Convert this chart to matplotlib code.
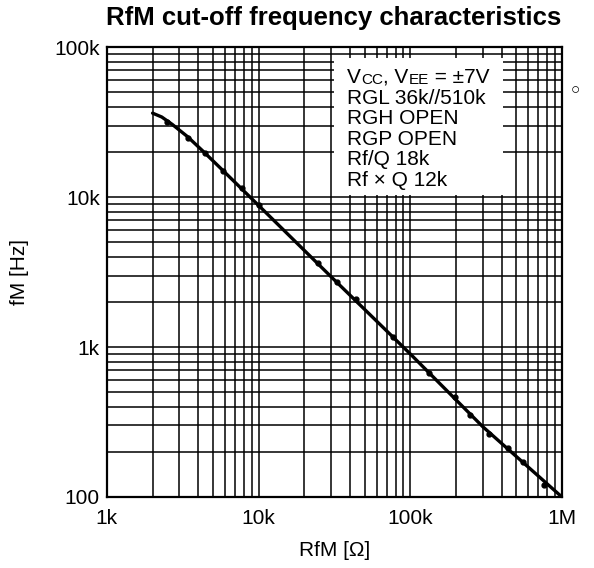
import matplotlib
matplotlib.use("Agg")
import matplotlib.pyplot as plt
from matplotlib.ticker import LogLocator, FixedLocator, FixedFormatter, NullFormatter

plt.rcParams['font.family'] = ['Liberation Sans', 'DejaVu Sans']

# smooth characteristic curve (RfM in ohm, fM in Hz)
curve_x = [2.0e3, 2.3e3, 2.7e3, 3.4e3, 4.4e3, 6.0e3, 1.0e4, 3.0e4, 1.0e5, 3.0e5, 1.0e6]
curve_y = [36.3e3, 34.2e3, 30.5e3, 25.3e3, 19.8e3, 14.6e3, 8.8e3, 2.95e3, 900, 295, 100]

# measured points
meas_x = [2.5e3, 3.4e3, 4.4e3, 5.8e3, 7.8e3, 1.0e4, 2.46e4, 3.3e4, 4.4e4,
          7.7e4, 1.32e5, 1.96e5, 2.47e5, 3.3e5, 4.4e5, 5.5e5, 7.6e5]
meas_y = [31.6e3, 24.7e3, 19.6e3, 14.9e3, 11.5e3, 8.85e3, 3.63e3, 2.71e3, 2.09e3,
          1.17e3, 671, 464, 352, 263, 212, 171, 120]

x_ticks = [1e3, 1e4, 1e5, 1e6]
x_labels = ['1k', '10k', '100k', '1M']
y_ticks = [1e2, 1e3, 1e4, 1e5]
y_labels = ['100', '1k', '10k', '100k']

legend_lines = ["RGL 36k//510k", "RGH OPEN", "RGP OPEN", "Rf/Q 18k", "Rf \u00d7 Q 12k"]

fig = plt.figure(figsize=(5.94, 5.68), dpi=100)
ax = fig.add_axes([0.180, 0.125, 0.766, 0.792])
ax.set_xscale('log')
ax.set_yscale('log')
ax.set_xlim(1e3, 1e6)
ax.set_ylim(1e2, 1e5)

ax.xaxis.set_major_locator(FixedLocator(x_ticks))
ax.xaxis.set_major_formatter(FixedFormatter(x_labels))
ax.yaxis.set_major_locator(FixedLocator(y_ticks))
ax.yaxis.set_major_formatter(FixedFormatter(y_labels))
ax.xaxis.set_minor_locator(LogLocator(base=10, subs=range(2, 10)))
ax.yaxis.set_minor_locator(LogLocator(base=10, subs=range(2, 10)))
ax.xaxis.set_minor_formatter(NullFormatter())
ax.yaxis.set_minor_formatter(NullFormatter())
ax.tick_params(which='both', length=0, labelsize=15, pad=5)
ax.tick_params(axis='x', pad=9)

ax.grid(True, which='both', color='black', linewidth=1.1)
ax.set_axisbelow(True)
for s in ax.spines.values():
    s.set_linewidth(1.6)

ax.plot(curve_x, curve_y, color='black', linewidth=2.4, solid_capstyle='round', zorder=3)
ax.plot(meas_x, meas_y, 'o', color='black', markersize=3.5, zorder=4)

# condition box
ax.add_patch(plt.Rectangle((0.499, 0.671), 0.371, 0.305, transform=ax.transAxes,
                           facecolor='white', edgecolor='none', zorder=2))
fs = 15
t = ax.text(0.528, 0.954, "V", transform=ax.transAxes, fontsize=fs, va='top', zorder=5)
t = ax.annotate("CC", xy=(1, 0), xycoords=t, fontsize=11, va='bottom', zorder=5)
t = ax.annotate(", V", xy=(1, 0), xycoords=t, fontsize=fs, va='bottom', zorder=5)
t = ax.annotate("EE", xy=(1, 0), xycoords=t, fontsize=11, va='bottom', zorder=5)
t = ax.annotate(" = \u00b17V", xy=(1, 0), xycoords=t, fontsize=fs, va='bottom', zorder=5)
ax.text(0.528, 0.908, "\n".join(legend_lines), transform=ax.transAxes, fontsize=fs,
        va='top', linespacing=1.1, zorder=5)

fig.text(0.968, 0.842, "\u25cb", fontsize=11, ha='center', va='center')

fig.text(0.561, 0.968, "RfM cut-off frequency characteristics", fontsize=18.5,
         fontweight='bold', ha='center', va='center')
ax.set_xlabel("RfM [\u03a9]", fontsize=15, labelpad=9)
ax.set_ylabel("fM [Hz]", fontsize=15, labelpad=18)

fig.savefig("out.png", dpi=100)
